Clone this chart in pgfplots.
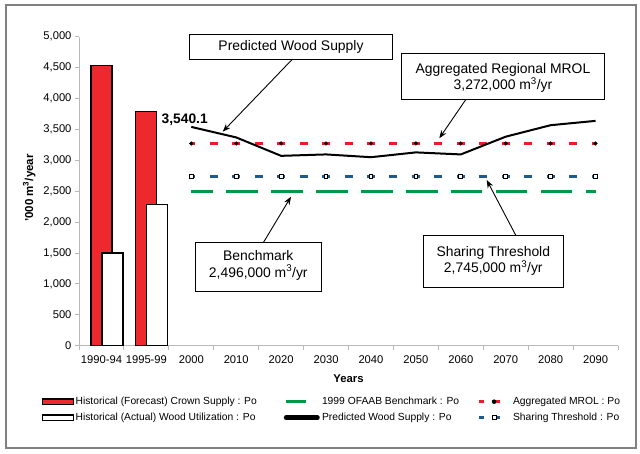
\documentclass[border=0pt]{standalone}
\usepackage{fontspec}
\setmainfont{Liberation Sans}
\usepackage{pgfplots}
\pgfplotsset{compat=1.18}
\usetikzlibrary{arrows.meta}
\definecolor{barred}{RGB}{237,41,46}
\definecolor{mrolred}{RGB}{237,28,36}
\definecolor{bgreen}{RGB}{0,153,68}
\definecolor{sblue}{RGB}{30,90,140}
\definecolor{axisgray}{RGB}{185,185,185}
\definecolor{framegray}{RGB}{128,128,128}
\newcommand\tickfont{\fontsize{11.2}{13}\selectfont}
\newcommand\callfont{\fontsize{13.9}{16.4}\selectfont}
\begin{document}
\begin{tikzpicture}[x=1pt,y=1pt]
\useasboundingbox (0,0) rectangle (640,454);
\fill[white] (0,0) rectangle (640,454);
\draw[framegray, line width=2pt] (5.7,6.3) rectangle (635.7,449);
\begin{axis}[
  at={(79pt,108.3pt)}, anchor=south west, scale only axis,
  width=539pt, height=309pt,
  xmin=-0.5, xmax=11.5, ymin=0, ymax=5000,
  axis x line=bottom, axis y line=left,
  axis line style={-, draw=axisgray, line width=0.9pt},
  xtick={-0.5,0.5,...,11.5},
  x tick label as interval,
  xticklabels={1990-94,1995-99,2000,2010,2020,2030,2040,2050,2060,2070,2080,2090},
  ytick={0,500,...,5000},
  tick style={draw=axisgray, line width=0.9pt},
  tick align=outside, major tick length=4pt,
  ticklabel style={font=\tickfont},
  x tick label style={yshift=-2pt},
  /pgf/number format/.cd, 1000 sep={,}, assume math mode=true,
  /pgfplots/.cd,
  clip=false,
  legend columns=3,
  legend cell align=left,
  legend style={at={(-0.0692,-0.1547)}, anchor=north west, draw=none, fill=none,
    inner xsep=0pt, inner ysep=0pt, column sep=0pt, row sep=0pt,
    font=\fontsize{10.3}{12}\selectfont,
    nodes={inner sep=0pt, text height=11.2pt, text depth=4.8pt}},
]
% bars
\addplot[ybar, bar width=21pt, bar shift=0pt, fill=barred, draw=black, line width=1.2pt, forget plot]
  coordinates {(0,4540) (1,3790)};
\addplot[ybar, bar width=21pt, bar shift=11pt, fill=white, draw=black, line width=1.2pt, forget plot]
  coordinates {(0,1500) (1,2280)};
% benchmark
\addplot[bgreen, line width=3.2pt, dash pattern=on 31.6pt off 13.3pt, dash phase=9.8pt, forget plot]
  coordinates {(2,2496) (3,2496) (4,2496) (5,2496) (6,2496) (7,2496) (8,2496) (9,2496) (10,2496) (11,2496)};
% sharing threshold
\addplot[sblue, line width=3pt, dash pattern=on 8pt off 14.46pt, dash phase=4pt,
  mark=square*, mark size=1.9pt, mark options={solid, fill=white, draw=black, line width=0.9pt}, forget plot]
  coordinates {(2,2745) (3,2745) (4,2745) (5,2745) (6,2745) (7,2745) (8,2745) (9,2745) (10,2745) (11,2745)};
% MROL
\addplot[mrolred, line width=3pt, dash pattern=on 8pt off 14.46pt, dash phase=4pt,
  mark=*, mark size=1.9pt, mark options={solid, fill=black, draw=black, line width=0.3pt}, forget plot]
  coordinates {(2,3272) (3,3272) (4,3272) (5,3272) (6,3272) (7,3272) (8,3272) (9,3272) (10,3272) (11,3272)};
% predicted wood supply
\addplot[black, line width=2pt, forget plot]
  coordinates {(2,3540.1) (3,3370) (4,3072) (5,3095) (6,3050) (7,3128) (8,3095) (9,3382) (10,3568) (11,3638)};
% legend
\addlegendimage{legend image code/.code={\draw[fill=barred, draw=black, line width=1.4pt] (0.6pt,-2.8pt) rectangle (31.4pt,2.8pt); \path (0pt,0pt) (33.3pt,0pt);}}
\addlegendentry{\makebox[208pt][l]{Historical (Forecast) Crown Supply : Po}}
\addlegendimage{legend image code/.code={\draw[bgreen, line width=3pt] (2pt,0pt) -- (22.6pt,0pt); \path (0pt,0pt) (38pt,0pt);}}
\addlegendentry{\makebox[155pt][l]{1999 OFAAB Benchmark : Po}}
\addlegendimage{legend image code/.code={\draw[mrolred, line width=3pt] (0.7pt,0pt) -- (5.7pt,0pt) (13.7pt,0pt) -- (22pt,0pt); \fill[black] (16.3pt,0pt) circle (2pt); \path (0pt,0pt) (35pt,0pt);}}
\addlegendentry{Aggregated MROL : Po}
\addlegendimage{legend image code/.code={\draw[fill=white, draw=black, line width=1.4pt] (0.6pt,-2.8pt) rectangle (31.4pt,2.8pt); \path (0pt,0pt) (33.3pt,0pt);}}
\addlegendentry{\makebox[208pt][l]{Historical (Actual) Wood Utilization : Po}}
\addlegendimage{legend image code/.code={\draw[black, line width=4.5pt, line cap=round] (2.3pt,0pt) -- (33.7pt,0pt); \path (0pt,0pt) (38pt,0pt);}}
\addlegendentry{\makebox[155pt][l]{Predicted Wood Supply : Po}}
\addlegendimage{legend image code/.code={\draw[sblue, line width=3pt] (0.7pt,0pt) -- (5.7pt,0pt) (13.7pt,0pt) -- (22pt,0pt); \draw[fill=white, draw=black, line width=1pt] (14.3pt,-2pt) rectangle (18.3pt,2pt); \path (0pt,0pt) (35pt,0pt);}}
\addlegendentry{Sharing Threshold : Po}
\end{axis}
% labels
\node[font=\bfseries\fontsize{13.8}{16}\selectfont] at (184.7,334.7) {3,540.1};
\node[font=\bfseries\fontsize{11.3}{13}\selectfont] at (348.5,75) {Years};
\node[font=\bfseries\fontsize{11.5}{13}\selectfont, rotate=90] at (29.3,266) {'000 m\textsuperscript{3}/year};
% callouts
\draw[line width=1pt, fill=white] (189.3,394.7) rectangle (392.7,419);
\node[font=\callfont] at (291,407) {Predicted Wood Supply};
\draw[line width=0.9pt, -{Stealth[length=8pt, width=6pt]}] (292.3,394.7) -- (222.7,322.3);
\draw[line width=1pt, fill=white] (401.7,354.7) rectangle (604.3,400.7);
\node[font=\callfont, align=center] at (503,376.2) {Aggregated Regional MROL\\3,272,000 m\textsuperscript{3}/yr};
\draw[line width=0.9pt, -{Stealth[length=8pt, width=6pt]}] (466,354.7) -- (439.3,315.7);
\draw[line width=1pt, fill=white] (195,162) rectangle (321.6,211.3);
\node[font=\callfont, align=center] at (258.3,188.7) {Benchmark\\2,496,000 m\textsuperscript{3}/yr};
\draw[line width=0.9pt, -{Stealth[length=8pt, width=6pt]}] (263.3,211.3) -- (291,257.3);
\draw[line width=1pt, fill=white] (423.3,166.7) rectangle (563.3,218.3);
\node[font=\callfont, align=center] at (493.3,193.2) {Sharing Threshold\\2,745,000 m\textsuperscript{3}/yr};
\draw[line width=0.9pt, -{Stealth[length=8pt, width=6pt]}] (516,218.3) -- (486.7,274);
\end{tikzpicture}
\end{document}
